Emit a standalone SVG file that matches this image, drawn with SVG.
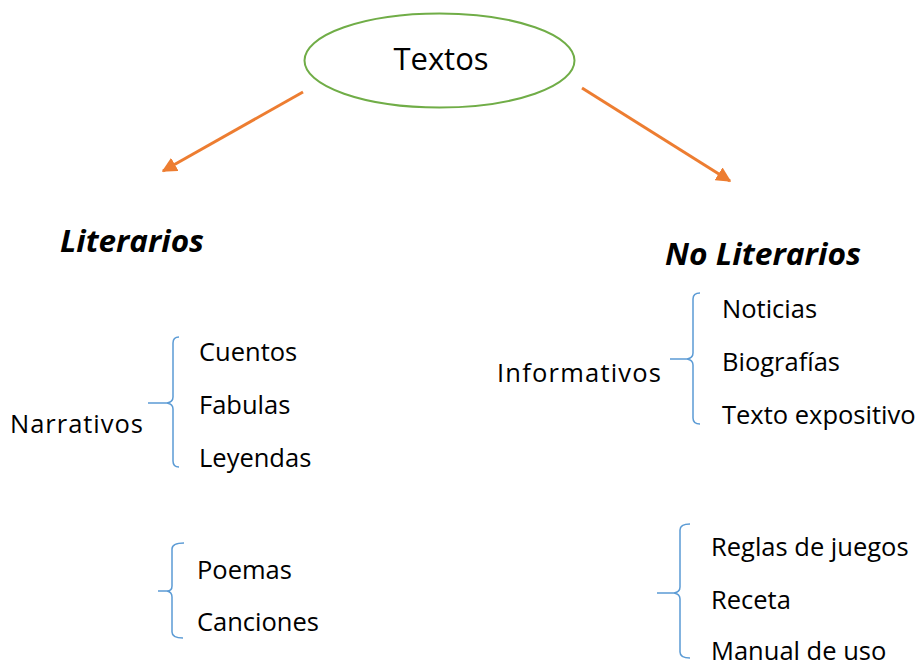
<svg xmlns="http://www.w3.org/2000/svg" width="917" height="666" viewBox="0 0 917 666">
<style>
.t{font-family:"Open Sans","Noto Sans","Liberation Sans",sans-serif;fill:#000;font-size:25.5px}
.h{font-family:"Open Sans","Noto Sans","Liberation Sans",sans-serif;font-weight:bold;font-style:italic;font-size:30px;fill:#000}
.br{fill:none;stroke:#5B9BD5;stroke-width:1.5}
.ar{stroke:#ED7D31;stroke-width:3;fill:none}
</style>
<defs>
<marker id="ah" viewBox="0 0 10 10" refX="9" refY="5" markerWidth="5" markerHeight="5" orient="auto" markerUnits="strokeWidth">
<path d="M0 0 L10 5 L0 10 Z" fill="#ED7D31"/>
</marker>
</defs>
<rect width="917" height="666" fill="#fff"/>
<g id="connectors">
<line class="ar" x1="303" y1="92" x2="163" y2="171" marker-end="url(#ah)"/>
<line class="ar" x1="582" y1="88" x2="730" y2="181" marker-end="url(#ah)"/>
</g>
<g id="textos">
<ellipse cx="439.5" cy="60.5" rx="135" ry="47" fill="#fff" stroke="#70AD47" stroke-width="2"/>
<text x="441" y="70" class="t" style="font-size:31px" text-anchor="middle">Textos</text>
</g>
<g id="literarios"><text x="60" y="252" class="h" textLength="144" lengthAdjust="spacingAndGlyphs">Literarios</text></g>
<g id="noliterarios"><text x="665" y="265" class="h" textLength="196" lengthAdjust="spacingAndGlyphs">No Literarios</text></g>
<g id="narrativos">
<text x="10" y="433" class="t" textLength="133">Narrativos</text>
<path class="br" d="M179 337 Q173 337 173 343 L173 397 Q173 402 167 403 L148 403 M167 403 Q173 404 173 409 L173 461 Q173 467 179 467"/>
<text x="199" y="361" class="t">Cuentos</text>
<text x="199" y="414" class="t">Fabulas</text>
<text x="199" y="467" class="t">Leyendas</text>
</g>
<g id="poeticos">
<path class="br" d="M184 543 Q172 543 172 549 L172 586 Q172 591 167 591 L158 591 M167 591 Q172 592 172 597 L172 632 Q172 638 183 638"/>
<text x="197" y="579" class="t">Poemas</text>
<text x="197" y="631" class="t">Canciones</text>
</g>
<g id="informativos">
<text x="497" y="382" class="t" textLength="164">Informativos</text>
<path class="br" d="M700 293 Q693 293 693 299 L693 353 Q693 358 687 359 L670 359 M687 359 Q693 360 693 365 L693 418 Q693 424 700 424"/>
<text x="722" y="318" class="t">Noticias</text>
<text x="722" y="371" class="t">Biografías</text>
<text x="722" y="424" class="t">Texto expositivo</text>
</g>
<g id="instructivos">
<path class="br" d="M690 524 Q680 524 680 530 L680 587 Q680 592 674 593 L657 593 M674 593 Q680 594 680 599 L680 652 Q680 658 690 658"/>
<text x="711" y="556" class="t">Reglas de juegos</text>
<text x="711" y="609" class="t">Receta</text>
<text x="711" y="660" class="t">Manual de uso</text>
</g>
</svg>
